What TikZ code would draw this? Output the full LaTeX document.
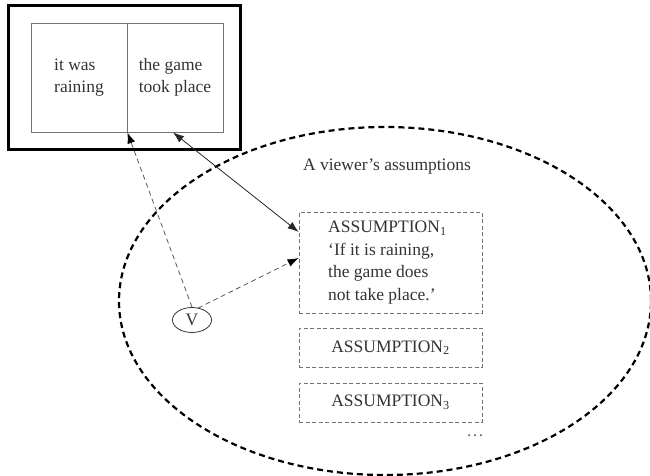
\documentclass[tikz,border=0pt]{standalone}
\usepackage{fontspec}
\setmainfont{Liberation Serif}
\usetikzlibrary{arrows.meta,shapes.geometric}
\begin{document}
\begin{tikzpicture}[x=1pt,y=-1pt,
  txt/.style={text=black!80, font=\fontsize{17.5}{22.5}\selectfont},
  cell/.style={draw=black!55, line width=0.8pt, minimum width=96pt, minimum height=109pt, inner sep=0pt, align=left, txt},
  abox/.style={draw=black!55, dashed, dash pattern=on 4pt off 2.5pt, line width=0.7pt, minimum width=183pt, inner sep=0pt},
  darr/.style={draw=black!65, dashed, dash pattern=on 5pt off 3.5pt, line width=0.8pt, -{Latex[length=11pt,width=8pt,black]}},
  sarr/.style={draw=black!85, line width=0.8pt, {Latex[length=11pt,width=8pt]}-{Latex[length=11pt,width=8pt]}}
]
\useasboundingbox (0,0) rectangle (650,476);
% outer frame
\node[draw=black, line width=3pt, minimum width=232pt, minimum height=143pt, inner sep=0pt] (frame) at (124,77.5) {};
\node[cell] (lb) at (79,77.5) {it was\\raining};
\node[cell] (rb) at (175,77.5) {the game\\took place};
% ellipse of assumptions
\draw[line width=2.2pt, dash pattern=on 6pt off 4pt] (385,301) ellipse [x radius=266pt, y radius=174pt];
\node[txt] (title) at (387,167) {A viewer’s assumptions};
% assumption boxes
\node[abox, minimum height=101pt] (a1) at (390.5,262.5) {};
\node[txt, align=left, anchor=west, inner sep=0pt] (a1t) at (328,262.5) {ASSUMPTION\textsubscript{1}\\‘If it is raining,\\the game does\\not take place.’};
\node[abox, minimum height=39pt, txt] (a2) at (390.5,347.5) {ASSUMPTION\textsubscript{2}};
\node[abox, minimum height=39pt, txt] (a3) at (390.5,402.5) {ASSUMPTION\textsubscript{3}};
\node[txt, text=black!60] (dots) at (475,436) {\dots};
% viewer
\node[draw=black!80, ellipse, line width=0.8pt, minimum width=39pt, minimum height=25pt, inner sep=0pt, txt] (V) at (192,320) {V};
% connectors
\draw[darr] (V.north) -- (lb.south east);
\draw[darr] ([xshift=6pt,yshift=-1pt]V.north) -- ([yshift=4.5pt]a1.west);
\draw[sarr] ([xshift=-2pt]rb.south) -- ([yshift=30.5pt]a1.west);
\end{tikzpicture}
\end{document}
